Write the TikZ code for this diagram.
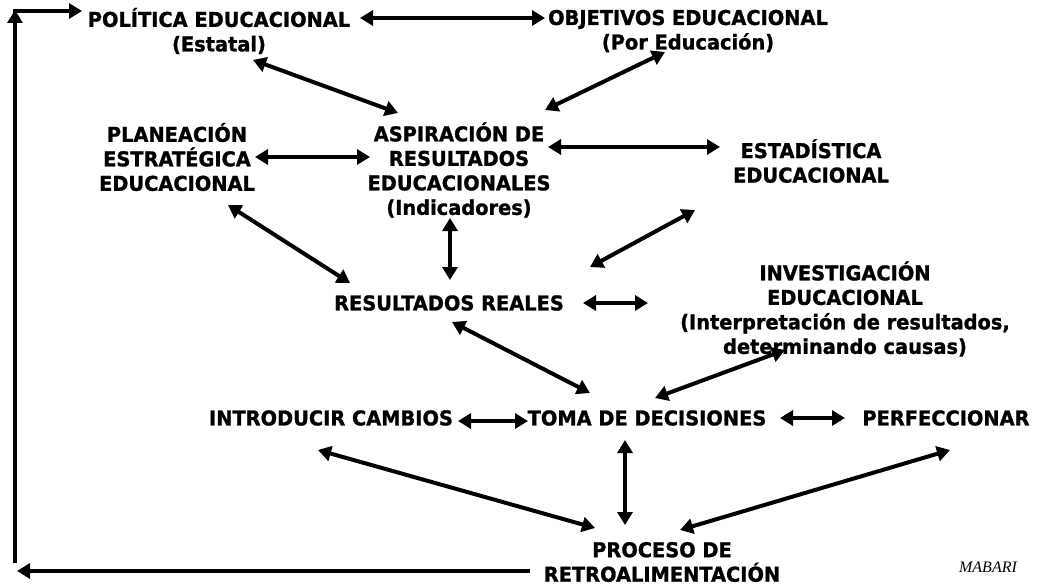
\documentclass[tikz,border=0pt]{standalone}
\usepackage{fontspec}
\setmainfont{DejaVu Sans}[FakeStretch=0.95,FakeBold=1.2]
\newfontfamily\firmafont{Liberation Serif}
\usetikzlibrary{arrows.meta}

\tikzset{
  box/.style={font=\bfseries\fontsize{20.4}{24.5}\selectfont, align=center, inner sep=0pt},
  flecha/.style={line width=4pt, {Triangle[length=13pt,width=15pt]}-{Triangle[length=13pt,width=15pt]}},
  retro/.style={line width=4pt, -{Triangle[length=13pt,width=15pt]}}
}

\begin{document}
\begin{tikzpicture}[x=1pt,y=-1pt]
\useasboundingbox (0,0) rectangle (1037,586);

\node[box] (pol) at (219,31) {POLÍTICA EDUCACIONAL\\(Estatal)};
\node[box] (obj) at (688,31) {OBJETIVOS EDUCACIONAL\\(Por Educación)};
\node[box] (plan) at (177,157) {PLANEACIÓN\\ESTRATÉGICA\\EDUCACIONAL};
\node[box] (asp) at (459,170) {ASPIRACIÓN DE\\RESULTADOS\\EDUCACIONALES\\(Indicadores)};
\node[box] (est) at (811,161) {ESTADÍSTICA\\EDUCACIONAL};
\node[box] (res) at (449,303) {RESULTADOS REALES};
\node[box] (inv) at (845,309) {INVESTIGACIÓN\\EDUCACIONAL\\(Interpretación de resultados,\\determinando causas)};
\node[box] (intro) at (331,418) {INTRODUCIR CAMBIOS};
\node[box] (toma) at (647,418) {TOMA DE DECISIONES};
\node[box] (perf) at (946,418) {PERFECCIONAR};
\node[box] (proc) at (662,562) {PROCESO DE\\RETROALIMENTACIÓN};
\node[font=\firmafont\itshape\fontsize{16}{18}\selectfont, inner sep=0pt] (firma) at (988,567) {MABARI};

\coordinate (esqinf) at (17,571);
\coordinate (baseiz) at (15,563);
\coordinate (topeiz) at (15,10);
\coordinate (esqsup) at (13,11);

\path[flecha] ([shift={(141,-13)}]pol.center) edge ([shift={(-143,-13)}]obj.center);
\path[flecha] ([shift={(34,29)}]pol.center) edge ([shift={(-61,-57)}]asp.center);
\path[flecha] ([shift={(-23,21)}]obj.center) edge ([shift={(86,-60)}]asp.center);
\path[flecha] ([shift={(78,0)}]plan.center) edge ([shift={(-89,-13)}]asp.center);
\path[flecha] ([shift={(89,-23)}]asp.center) edge ([shift={(-91,-14)}]est.center);
\path[flecha] ([shift={(51,48)}]plan.center) edge ([shift={(-99,-20)}]res.center);
\path[flecha] ([shift={(-9,48)}]asp.center) edge ([shift={(1,-23)}]res.center);
\path[flecha] ([shift={(-116,49)}]est.center) edge ([shift={(141,-36)}]res.center);
\path[flecha] ([shift={(134,0)}]res.center) edge ([shift={(-197,-6)}]inv.center);
\path[flecha] ([shift={(3,19)}]res.center) edge ([shift={(-57,-25)}]toma.center);
\path[flecha] ([shift={(8,-20)}]toma.center) edge ([shift={(-60,41)}]inv.center);
\path[flecha] ([shift={(127,3)}]intro.center) edge ([shift={(-119,3)}]toma.center);
\path[flecha] ([shift={(133,0)}]toma.center) edge ([shift={(-101,0)}]perf.center);
\path[flecha] ([shift={(-13,32)}]intro.center) edge ([shift={(-67,-34)}]proc.center);
\path[flecha] ([shift={(-22,22)}]toma.center) edge ([shift={(-37,-37)}]proc.center);
\path[flecha] ([shift={(4,32)}]perf.center) edge ([shift={(18,-32)}]proc.center);

%retroalimentacion
\path[retro] ([shift={(-132,9)}]proc.center) edge (esqinf);
\path[retro] (baseiz) edge (topeiz);
\path[retro] (esqsup) edge ([shift={(-137,-20)}]pol.center);
\end{tikzpicture}
\end{document}
